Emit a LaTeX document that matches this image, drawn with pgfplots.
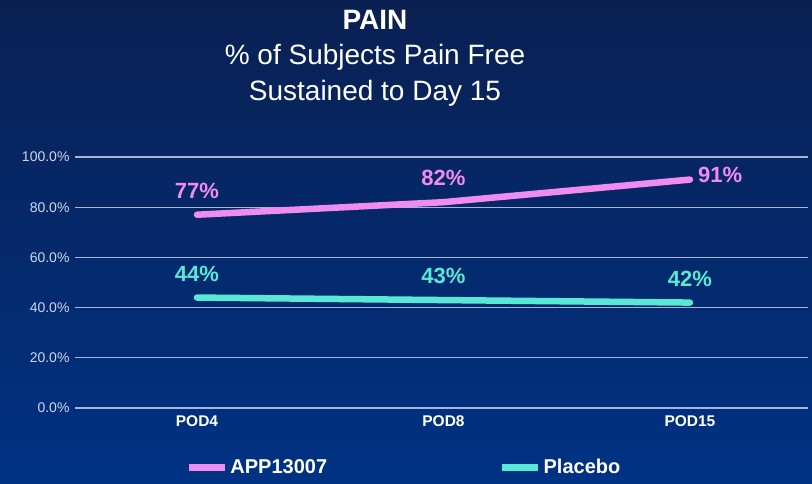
\documentclass[border=0pt]{standalone}
\usepackage{pgfplots}
\pgfplotsset{compat=1.18}
\usepackage{fontspec}
\setmainfont{Liberation Sans}
\definecolor{bgtop}{RGB}{10,32,82}
\definecolor{bgbot}{RGB}{0,50,132}
\definecolor{pinkline}{RGB}{240,140,240}
\definecolor{cyanline}{RGB}{90,232,214}
\definecolor{ticklab}{RGB}{205,215,235}
\definecolor{gridc}{RGB}{165,182,214}
\begin{document}
\begin{tikzpicture}
\shade[top color=bgtop,bottom color=bgbot] (0pt,0pt) rectangle (812pt,484pt);
\path[use as bounding box] (0pt,0pt) rectangle (812pt,484pt);
\node[white,font=\fontsize{28}{30}\selectfont\bfseries] at (375pt,464pt) {PAIN};
\node[white,font=\fontsize{28}{30}\selectfont] at (375pt,427pt) {\% of Subjects Pain Free};
\node[white,font=\fontsize{28}{30}\selectfont] at (375pt,391pt) {Sustained to Day 15};
\begin{axis}[
  at={(75pt,76pt)}, anchor=south west,
  width=733pt, height=251pt, scale only axis,
  xmin=-0.495, xmax=2.479, ymin=0, ymax=100,
  xtick={0,1,2}, xticklabels={POD4,POD8,POD15},
  ytick={0,20,40,60,80,100},
  yticklabel={\pgfmathprintnumber[fixed,fixed zerofill,precision=1]{\tick}\%},
  /pgf/number format/assume math mode=true,
  axis line style={draw=none},
  major tick length=0pt,
  ymajorgrids, grid style={gridc, line width=1.2pt},
  yticklabel style={ticklab, font=\fontsize{14}{16}\selectfont, xshift=-2pt},
  xticklabel style={white, font=\fontsize{15.5}{17}\selectfont\bfseries, yshift=-4pt},
  clip=false,
  legend columns=2,
  legend style={at={(0.449,-0.237)}, anchor=center, draw=none, fill=none,
    text=white, font=\fontsize{20}{22}\selectfont\bfseries,
    /tikz/every even column/.append style={column sep=170pt}},
  legend image code/.code={\draw[#1, line width=6.5pt, line cap=butt] (0pt,0pt) -- (36pt,0pt);},
]
\addplot[pinkline, line width=6.5pt, line cap=round, line join=round] coordinates {(0,77) (1,82) (2,91)};
\addlegendentry{APP13007}
\addplot[cyanline, line width=6.5pt, line cap=round, line join=round] coordinates {(0,44) (1,43) (2,42)};
\addlegendentry{Placebo}
\addplot[draw=none, forget plot, nodes near coords, point meta=explicit symbolic,
  every node near coord/.append style={pinkline, font=\fontsize{22}{24}\selectfont\bfseries, anchor=south, inner sep=0pt, yshift=16pt}]
  coordinates {(0,77) [77\%] (1,82) [82\%]};
\addplot[draw=none, forget plot, nodes near coords, point meta=explicit symbolic,
  every node near coord/.append style={pinkline, font=\fontsize{22}{24}\selectfont\bfseries, anchor=west, inner sep=0pt, xshift=8pt, yshift=5pt}]
  coordinates {(2,91) [91\%]};
\addplot[draw=none, forget plot, nodes near coords, point meta=explicit symbolic,
  every node near coord/.append style={cyanline, font=\fontsize{22}{24}\selectfont\bfseries, anchor=south, inner sep=0pt, yshift=16pt}]
  coordinates {(0,44) [44\%] (1,43) [43\%] (2,42) [42\%]};
\end{axis}
\end{tikzpicture}
\end{document}
